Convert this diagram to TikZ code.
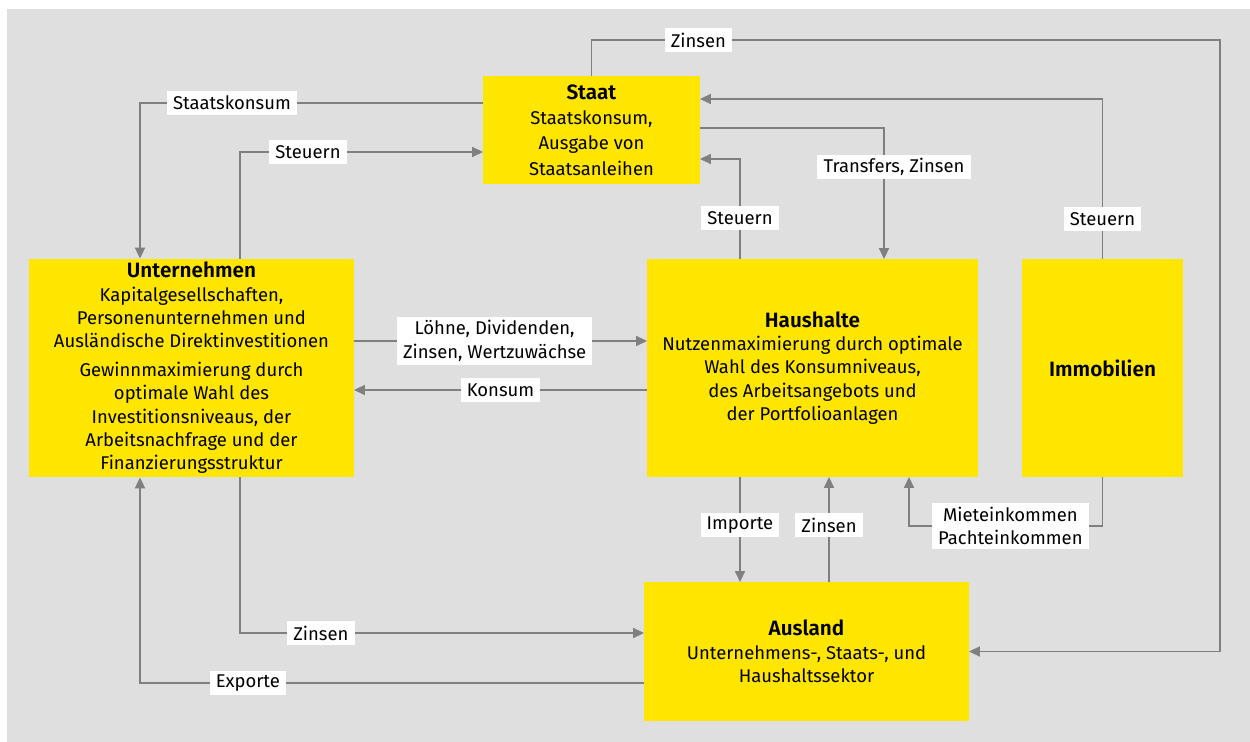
\documentclass[tikz,border=0pt]{standalone}
\usepackage{fontspec}
\setmainfont{Fira Sans}[BoldFont={Fira Sans SemiBold}]
\usetikzlibrary{arrows.meta}

\definecolor{eyyellow}{HTML}{FFE600}
\definecolor{bggray}{HTML}{DFDFDF}
\definecolor{linegray}{HTML}{808080}

\begin{document}
\begin{tikzpicture}[
        x=0.02cm, y=-0.02cm,
        font=\fontsize{10.5}{13.3}\selectfont,
        box/.style={fill=eyyellow, align=center, inner sep=2pt, outer sep=0pt, minimum height=4.36cm},
        line/.style={-{Triangle[length=0.22cm, width=0.2cm]}, linegray, line width=1.1pt},
        lbl/.style={fill=white, text=black, align=center, inner xsep=3.5pt, inner ysep=2pt, minimum height=0.48cm}
    ]

    % page and grey panel
    \useasboundingbox (0,0) rectangle (1250,742);
    \fill[bggray] (7,9) rectangle (1250,742);

    % sectors
    \node[box, minimum width=4.34cm, minimum height=2.16cm, font=\fontsize{10.5}{14.5}\selectfont] (staat) at (591.5,130)
        {\textbf{\fontsize{11.8}{14.5}\selectfont Staat}\\ Staatskonsum,\\ Ausgabe von\\ Staatsanleihen};
    \node[box, minimum width=6.5cm] (unternehmen) at (191.5,368)
        {\textbf{\fontsize{11.8}{13.3}\selectfont Unternehmen}\\ Kapitalgesellschaften,\\ Personenunternehmen und\\ Ausländische Direktinvestitionen\\[3pt]
         Gewinnmaximierung durch\\ optimale Wahl des\\ Investitionsniveaus, der\\ Arbeitsnachfrage und der\\ Finanzierungsstruktur};
    \node[box, minimum width=6.62cm] (haushalte) at (812.5,368)
        {\textbf{\fontsize{11.8}{13.8}\selectfont Haushalte}\\ Nutzenmaximierung durch optimale\\ Wahl des Konsumniveaus,\\ des Arbeitsangebots und\\ der Portfolioanlagen};
    \node[box, minimum width=3.22cm] (immobilien) at (1102.5,368) {\textbf{\fontsize{11.8}{13.8}\selectfont Immobilien}};
    \node[box, minimum width=6.5cm, minimum height=2.78cm] (ausland) at (806.5,651.5)
        {\textbf{\fontsize{11.8}{13.3}\selectfont Ausland}\\ Unternehmens-, Staats-, und\\ Haushaltssektor};

    % flows around Staat
    \draw[line] (staat.north) |- node[lbl, pos=0.585]{Zinsen} (1220,40) |- (ausland.east);
    \draw[line] (staat.west |- 0,103) -| node[lbl, pos=0.366]{Staatskonsum} (unternehmen.north -| 140,0);
    \draw[line] (unternehmen.north -| 240,0) |- node[lbl, pos=0.64]{Steuern} (staat.west |- 0,152);
    \draw[line] (immobilien.north) |- node[lbl, pos=0.126]{Steuern} (staat.east |- 0,99);
    \draw[line] (staat.east |- 0,128) -| node[lbl, pos=0.649, xshift=0.2cm]{Transfers, Zinsen} (haushalte.north -| 884,0);
    \draw[line] (haushalte.north -| 740,0) |- node[lbl, pos=0.205]{Steuern} (staat.east |- 0,159);

    % Unternehmen <-> Haushalte
    \draw[line] (unternehmen.east |- 0,341) -- node[lbl, pos=0.48]{Löhne, Dividenden,\\ Zinsen, Wertzuwächse} (haushalte.west |- 0,341);
    \draw[line] (haushalte.west |- 0,390) -- node[lbl]{Konsum} (unternehmen.east |- 0,390);

    % Haushalte, Immobilien <-> Ausland
    \draw[line] (haushalte.south -| 740,0) -- node[lbl, pos=0.46]{Importe} (ausland.north -| 740,0);
    \draw[line] (ausland.north -| 829,0) -- node[lbl, pos=0.54]{Zinsen} (haushalte.south -| 829,0);
    \draw[line] (immobilien.south) |- node[lbl, pos=0.738]{Mieteinkommen\\ Pachteinkommen} (909,526) -- (haushalte.south -| 909,0);

    % Unternehmen <-> Ausland
    \draw[line] (unternehmen.south -| 240,0) |- node[lbl, pos=0.6]{Zinsen} (ausland.west |- 0,633);
    \draw[line] (ausland.west |- 0,683) -| node[lbl, pos=0.393]{Exporte} (unternehmen.south -| 140,0);

\end{tikzpicture}
\end{document}
